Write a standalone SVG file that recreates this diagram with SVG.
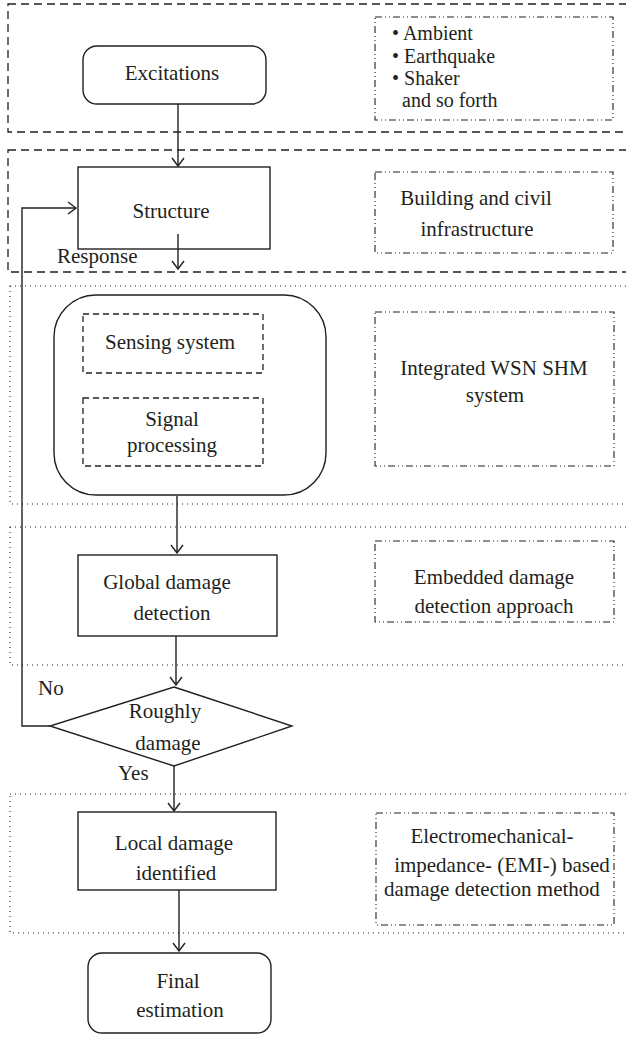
<svg xmlns="http://www.w3.org/2000/svg" width="626" height="1037" viewBox="0 0 626 1037" font-family="'Liberation Serif', 'DejaVu Serif', serif">
<style>
text{font-family:'Liberation Serif','Times New Roman','DejaVu Serif',serif;font-size:21px;fill:#231f20}
.c{text-anchor:middle}
.sm{font-size:20px}
.node{fill:#fff;stroke:#231f20;stroke-width:1.4}
.dash{fill:none;stroke:#231f20;stroke-width:1.3;stroke-dasharray:8 5}
.dot{fill:none;stroke:#231f20;stroke-width:1.1;stroke-dasharray:1 4}
.dd{fill:none;stroke:#231f20;stroke-width:1.1;stroke-dasharray:7 3 1 3 1 3}
.idash{fill:none;stroke:#231f20;stroke-width:1.3;stroke-dasharray:6 4}
.conn{fill:none;stroke:#231f20;stroke-width:1.4}
</style>
<defs>
<marker id="arr" viewBox="0 0 10 14" refX="9" refY="7" markerWidth="10" markerHeight="14" markerUnits="userSpaceOnUse" orient="auto">
<path d="M1,1 L9,7 L1,13" fill="none" stroke="#231f20" stroke-width="1.4"/>
</marker>
</defs>

<g id="groups">
<rect class="dash" x="8" y="4" width="640" height="128"/>
<rect class="dash" x="8" y="150" width="640" height="122"/>
<rect class="dot" x="10" y="286" width="640" height="218"/>
<rect class="dot" x="10" y="527" width="640" height="138"/>
<rect class="dot" x="10" y="794" width="640" height="139"/>
</g>

<g id="excitations">
<rect class="node" x="83" y="46" width="183" height="58" rx="14"/>
<text class="c" x="172" y="80">Excitations</text>
</g>

<g id="note-excitations">
<rect class="dd" x="375" y="17" width="238" height="103"/>
<text class="sm" x="392" y="40">• Ambient</text>
<text class="sm" x="392" y="63">• Earthquake</text>
<text class="sm" x="392" y="85">• Shaker</text>
<text class="sm" x="402" y="107">and so forth</text>
</g>

<g id="structure">
<rect class="node" x="78" y="167" width="192" height="82"/>
<text class="c" x="171" y="218">Structure</text>
</g>

<g id="note-structure">
<rect class="dd" x="375" y="172" width="238" height="81"/>
<text class="c" x="476" y="205">Building and civil</text>
<text class="c" x="477" y="236">infrastructure</text>
</g>

<g id="wsn">
<rect class="node" x="54" y="295" width="272" height="200" rx="42"/>
</g>

<g id="sensing">
<rect class="idash" x="83" y="314" width="180" height="59"/>
<text class="c" x="170" y="349">Sensing system</text>
</g>

<g id="signal">
<rect class="idash" x="83" y="398" width="180" height="68"/>
<text class="c" x="172" y="426">Signal</text>
<text class="c" x="172" y="452">processing</text>
</g>

<g id="note-wsn">
<rect class="dd" x="375" y="312" width="239" height="154"/>
<text class="c" x="494" y="375">Integrated WSN SHM</text>
<text class="c" x="495" y="402">system</text>
</g>

<g id="global">
<rect class="node" x="78" y="555" width="199" height="81"/>
<text class="c" x="167" y="589">Global damage</text>
<text class="c" x="172" y="620">detection</text>
</g>

<g id="note-global">
<rect class="dd" x="375" y="541" width="239" height="81"/>
<text class="c" x="494" y="584">Embedded damage</text>
<text class="c" x="494" y="613">detection approach</text>
</g>

<g id="decision">
<polygon class="node" points="174,687 292,726 174,766 50,726"/>
<text class="c" x="165" y="718">Roughly</text>
<text class="c" x="168" y="750">damage</text>
</g>

<g id="local">
<rect class="node" x="78" y="812" width="198" height="78"/>
<text class="c" x="174" y="850">Local damage</text>
<text class="c" x="176" y="880">identified</text>
</g>

<g id="note-local">
<rect class="dd" x="376" y="813" width="238" height="112"/>
<text class="c" x="492" y="843">Electromechanical-</text>
<text class="c" x="502" y="872">impedance- (EMI-) based</text>
<text class="c" x="492" y="896">damage detection method</text>
</g>

<g id="final">
<rect class="node" x="88" y="953" width="183" height="80" rx="14"/>
<text class="c" x="178" y="988">Final</text>
<text class="c" x="180" y="1017">estimation</text>
</g>

<g id="connectors">
<line class="conn" x1="178" y1="104" x2="178" y2="166" marker-end="url(#arr)"/>
<line class="conn" x1="178" y1="234" x2="178" y2="269" marker-end="url(#arr)"/>
<line class="conn" x1="177" y1="496" x2="177" y2="553" marker-end="url(#arr)"/>
<line class="conn" x1="176" y1="636" x2="176" y2="685" marker-end="url(#arr)"/>
<line class="conn" x1="174" y1="766" x2="174" y2="811" marker-end="url(#arr)"/>
<line class="conn" x1="179" y1="890" x2="179" y2="951" marker-end="url(#arr)"/>
<polyline class="conn" points="50,726 22,726 22,208 76,208" marker-end="url(#arr)"/>
<text x="57" y="263">Response</text>
<text x="38" y="695">No</text>
<text x="118" y="780">Yes</text>
</g>
</svg>
